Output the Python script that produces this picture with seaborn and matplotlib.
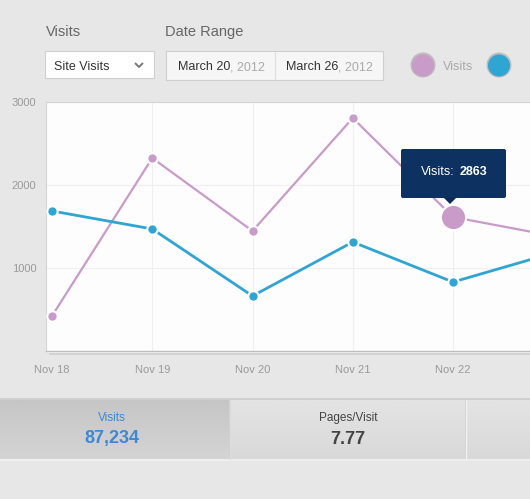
import numpy as np
import pandas as pd
import matplotlib
matplotlib.use("Agg")
import matplotlib.pyplot as plt
import seaborn as sns
from matplotlib.colors import LinearSegmentedColormap
from matplotlib.patches import Rectangle, FancyBboxPatch, Polygon, Circle

# chart values
days = ["Nov 18", "Nov 19", "Nov 20", "Nov 21", "Nov 22", "Nov 23"]
visits = [422, 2325, 1446, 2807, 1614, 1386]
unique_visits = [1687, 1470, 663, 1313, 831, 1181]
y_ticks = [1000, 2000, 3000]
tick_labels = ["Nov 18", "Nov 19", "Nov 20", "Nov 21", "Nov 22"]
hover_day = "Nov 22"
tooltip_value = 2863
summary_titles = ["Visits", "Pages/Visit"]
summary_values = ["87,234", "7.77"]
date_from, date_to, year = "March 20", "March 26", "2012"

PINK = "#c99bc8"
BLUE = "#2fa5d4"
BG = "#e7e7e7"

sns.set_style("white")
plt.rcParams["font.family"] = ["Liberation Sans", "DejaVu Sans"]

W, H = 530, 499
fig = plt.figure(figsize=(W / 100, H / 100), dpi=100)
fig.patch.set_facecolor(BG)


def fx(x):
    return x / W


def fy(y):
    return 1 - y / H


# background overlay in pixel coordinates
bg = fig.add_axes([0, 0, 1, 1], zorder=-2)
bg.set_xlim(0, W)
bg.set_ylim(H, 0)
bg.axis("off")

# shadow under the plot area
bg.add_patch(Rectangle((49, 104), 520, 251, facecolor="#d2d2d2", edgecolor="none"))
bg.add_patch(Rectangle((47, 103), 520, 250, facecolor="#f4f4f4", edgecolor="none"))

# header labels
bg.text(46, 32, "Visits", fontsize=10.5, color="#666666", va="center")
bg.text(165, 32, "Date Range", fontsize=10.5, color="#666666", va="center")

# dropdown
bg.add_patch(Rectangle((45, 51), 109, 27, facecolor="#ffffff", edgecolor="#cfcfcf", lw=0.8))
bg.text(54, 70, "Site Visits", fontsize=9, color="#333333", va="baseline")
bg.plot([135.5, 139, 142.5], [63.5, 67, 63.5], color="#777777", lw=1.4, solid_capstyle="round")

# date range
bg.add_patch(Rectangle((166, 51), 217, 29, facecolor="#f6f6f6", edgecolor="#cfcfcf", lw=0.8))
bg.plot([275, 275], [52, 79], color="#dddddd", lw=0.8)
for x_split, day_txt in [(230, date_from), (338, date_to)]:
    bg.text(x_split, 70, day_txt, fontsize=9, color="#333333", va="baseline", ha="right")
    bg.text(x_split + 0.5, 70, f", {year}", fontsize=9, color="#aaaaaa", va="baseline", ha="left")

# legend dots
bg.add_patch(Circle((423, 65), 12.5, facecolor="#bdbdbd", edgecolor="none"))
bg.add_patch(Circle((423, 65.5), 11, facecolor=PINK, edgecolor="none"))
bg.text(443, 70, "Visits", fontsize=9, color="#aaaaaa", va="baseline")
bg.add_patch(Circle((499, 65), 12.5, facecolor="#bdbdbd", edgecolor="none"))
bg.add_patch(Circle((499, 65.5), 11, facecolor=BLUE, edgecolor="none"))

# summary band
bg.add_patch(Rectangle((0, 398), W, 63, facecolor="#cfcfcf", edgecolor="none"))
grad = np.linspace(0, 1, 50).reshape(-1, 1)
bg.imshow(grad, extent=(0, 229, 459, 400), cmap=LinearSegmentedColormap.from_list(
    "c1", ["#c6c6c6", "#d4d4d4"]), aspect="auto", zorder=1)
bg.imshow(grad, extent=(231, 465, 459, 400), cmap=LinearSegmentedColormap.from_list(
    "c2", ["#e4e4e4", "#d9d9d9"]), aspect="auto", zorder=1)
bg.imshow(grad, extent=(467, W, 459, 400), cmap=LinearSegmentedColormap.from_list(
    "c3", ["#e4e4e4", "#d9d9d9"]), aspect="auto", zorder=1)
bg.plot([0, W], [460, 460], color="#f5f5f5", lw=1.2, zorder=2)
bg.plot([466, 466], [400, 459], color="#f2f2f2", lw=1, zorder=2)
bg.plot([230, 230], [400, 459], color="#dcdcdc", lw=1, zorder=2)
for cx, title, val, col in [(112, summary_titles[0], summary_values[0], "#3d87d8"),
                            (348, summary_titles[1], summary_values[1], "#444444")]:
    bg.text(cx, 418, title, fontsize=8.5, color=col, ha="center", va="center", zorder=3)
    bg.text(cx, 439, val, fontsize=13, color=col, ha="center", va="center",
            fontweight="bold", zorder=3)

# main chart
ax = fig.add_axes([fx(46), fy(351), fx(580 - 46), fy(102) - fy(351)])
ax.set_facecolor("#fdfdfd")

df = pd.DataFrame({"day": days * 2,
                   "value": visits + unique_visits,
                   "series": ["Visits"] * len(days) + ["Unique Visits"] * len(days)})

sns.lineplot(data=df[df.series == "Visits"], x="day", y="value", color=PINK, lw=1.6,
             marker="o", markersize=7.5, markeredgecolor="white", markeredgewidth=1.5,
             ax=ax, zorder=3)
sns.lineplot(data=df[df.series == "Unique Visits"], x="day", y="value", color=BLUE, lw=2.0,
             marker="o", markersize=7.5, markeredgecolor="white", markeredgewidth=1.5,
             ax=ax, zorder=3)

# hovered point
hi = days.index(hover_day)
ax.scatter([hi], [visits[hi]], s=330, color=PINK, edgecolor="white", linewidth=1.5, zorder=4)

ax.set_xlim(-0.06, (580 - 52) / 100.25)
ax.set_ylim(0, 3000)
ax.set_yticks(y_ticks)
ax.set_yticklabels([str(v) for v in y_ticks])
ax.set_xticks(range(len(tick_labels)))
ax.set_xticklabels(tick_labels)
ax.set_xlabel("")
ax.set_ylabel("")
ax.tick_params(axis="both", length=0, labelsize=8, labelcolor="#9a9a9a")
ax.tick_params(axis="y", pad=7)
ax.tick_params(axis="x", pad=10)
ax.grid(True, color="#efefef", lw=0.8)
ax.get_xgridlines()[0].set_visible(False)
ax.set_axisbelow(True)
for side in ["top", "left"]:
    ax.spines[side].set_color("#d4d4d4")
    ax.spines[side].set_linewidth(0.8)
ax.spines["bottom"].set_color("#bdbdbd")
ax.spines["bottom"].set_linewidth(1)
ax.spines["right"].set_visible(False)
if ax.get_legend():
    ax.get_legend().remove()

# tooltip overlay
top = fig.add_axes([0, 0, 1, 1], zorder=10)
top.set_xlim(0, W)
top.set_ylim(H, 0)
top.axis("off")
top.patch.set_alpha(0)
top.add_patch(FancyBboxPatch((401, 149), 105, 49, boxstyle="round,pad=0,rounding_size=2",
                             facecolor="#0d3160", edgecolor="none"))
top.add_patch(Polygon([(443, 197), (457, 197), (450, 204)], closed=True,
                      facecolor="#0b2c58", edgecolor="none"))
top.text(455, 172, "Visits:", fontsize=9, color="white", ha="right", va="center")
top.text(460, 172, str(tooltip_value), fontsize=9, color="white", ha="left", va="center",
         fontweight="bold")

fig.savefig("out.png", dpi=100, facecolor=fig.get_facecolor())
